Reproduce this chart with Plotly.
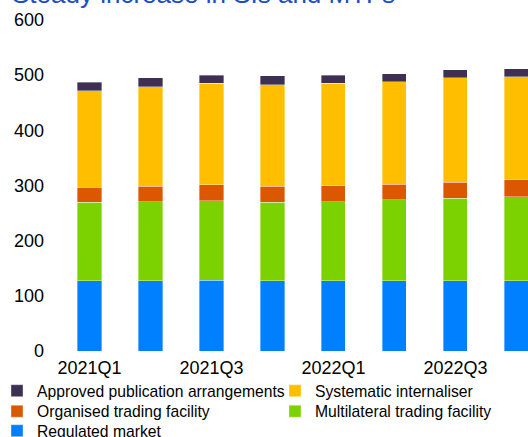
import plotly.graph_objects as go

quarters = ["2021Q1", "2021Q2", "2021Q3", "2021Q4", "2022Q1", "2022Q2", "2022Q3", "2022Q4"]
tick_labels = ["2021Q1", "2021Q3", "2022Q1", "2022Q3"]

regulated_market = [127, 127, 128, 127, 127, 127, 127, 127]
multilateral_tf = [143, 144, 144, 143, 144, 147, 150, 153]
organised_tf = [27, 28, 29, 29, 29, 28, 29, 30]
systematic_int = [175, 180, 184, 184, 185, 186, 189, 187]
approved_pub = [15, 16, 15, 16, 15, 15, 15, 15]

# (name, values, colour, legend id)
series = [
    ("Regulated market", regulated_market, "#0080FF", "legend5"),
    ("Multilateral trading facility", multilateral_tf, "#7BD200", "legend4"),
    ("Organised trading facility", organised_tf, "#DB5800", "legend3"),
    ("Systematic internaliser", systematic_int, "#FFBF00", "legend2"),
    ("Approved publication arrangements", approved_pub, "#3E3052", "legend"),
]

fig = go.Figure()
for name, vals, col, lg in series:
    fig.add_trace(go.Bar(
        x=quarters, y=vals, name=name, legend=lg, showlegend=True,
        marker=dict(color=col, line=dict(color="rgba(255,255,255,0.6)", width=0.6)),
    ))

FONT = "Liberation Sans, Arial, sans-serif"
W, H = 528, 437
ML, MR, MT, MB = 59, 0, 20, 86
PW = W - ML - MR


def legend_at(left_px, top_px):
    return dict(
        visible=True,
        xref="paper", yref="container",
        x=(left_px - ML) / PW, xanchor="left", y=1 - top_px / H, yanchor="top",
        font=dict(family=FONT, size=15.7, color="#000000"),
        itemclick=False, itemdoubleclick=False,
        bgcolor="rgba(0,0,0,0)", borderwidth=0,
    )


fig.update_layout(
    width=W, height=H,
    showlegend=True,
    barmode="stack", bargap=0.605,
    paper_bgcolor="white", plot_bgcolor="white",
    margin=dict(l=ML, r=MR, t=MT, b=MB, autoexpand=False),
    font=dict(family=FONT, size=18, color="#000000"),
    title=dict(
        text="Steady increase in SIs and MTFs",
        font=dict(family=FONT, size=26, color="#1A4EC2"),
        x=12 / W, xanchor="left", xref="container",
        y=1 - 2.5 / H, yanchor="bottom", yref="container",
    ),
    xaxis=dict(
        type="category", range=[-0.5, 7.19],
        tickmode="array", tickvals=tick_labels, ticktext=tick_labels,
        showgrid=False, showline=False, zeroline=False, ticks="",
        tickfont=dict(size=18, family=FONT, color="#000000"),
        ticklabelstandoff=4,
    ),
    yaxis=dict(
        range=[0, 600], dtick=100, tick0=0,
        showgrid=False, showline=False, zeroline=False, ticks="",
        tickfont=dict(size=18, family=FONT, color="#000000"),
        ticklabelstandoff=14,
    ),
    legend=legend_at(-3, 374),
    legend2=legend_at(275, 374),
    legend3=legend_at(-3, 394.5),
    legend4=legend_at(275, 394.5),
    legend5=legend_at(-3, 414),
)

fig.write_html(
    "out.html",
    config={"displayModeBar": False},
    post_script="document.body.style.margin='0';document.body.style.overflow='hidden';",
)
